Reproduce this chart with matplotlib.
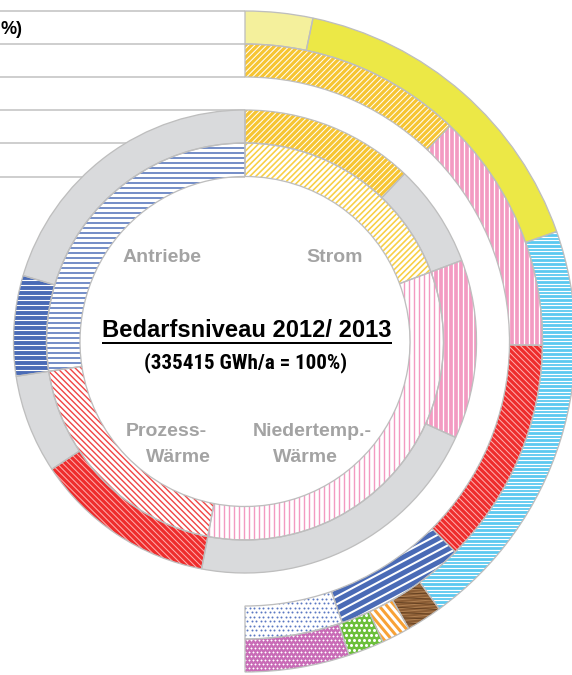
import numpy as np
import matplotlib
matplotlib.use("Agg")
import matplotlib.pyplot as plt
from matplotlib.patches import Wedge
from matplotlib.collections import LineCollection
from matplotlib import font_manager
from matplotlib.font_manager import FontProperties

# ---------------- data (percent of 335415 GWh/a; 100 % = full circle) -------------
categories = ["Strom", "Niedertemp.-\nWärme", "Prozess-\nWärme", "Antriebe"]
demand_2013 = [19.3, 33.7, 19.6, 27.4]          # inner ring
covered_share = [12.1, 12.5, 12.7, 7.0]          # coloured part of second ring
sector_future = [12.1, 13.1, 12.3, 7.2, 5.3]     # outer ring A (half circle)
sector_future_names = ["Strom", "Niedertemp", "Prozess", "Antriebe", "Rest"]
sources = [3.3, 16.3, 20.4, 1.75, 1.4, 1.75, 5.1]  # outer ring B (half circle)
source_names = ["PV", "Wind", "Wasser/Geo", "Holz", "Solarthermie", "Biogas", "Sonstige"]
title_text = "Bedarfsniveau 2012/ 2013"
subtitle_text = "(335415 GWh/a = 100%)"

# ---------------- figure ----------------
W, H = 572, 675
fig = plt.figure(figsize=(W / 100, H / 100), dpi=100)
ax = fig.add_axes([0, 0, 1, 1])
ax.set_xlim(0, W)
ax.set_ylim(0, H)
ax.set_aspect("equal")
ax.axis("off")

CX, CY = 245, H - 341.5
R1 = (165, 198.5)
R2 = (198.5, 231.5)
RA = (264.5, 297.5)
RB = (297.5, 330.5)
EDGE = "#BEBEBE"
GRAY = "#D9DADC"
PX = 0.72  # points per pixel

names = {f.name for f in font_manager.fontManager.ttflist}
SANS = "Liberation Sans" if "Liberation Sans" in names else "DejaVu Sans"


def find_condensed_bold():
    cands = []
    for f in font_manager.fontManager.ttflist:
        w = f.weight
        bold = (w in ("bold", "heavy", "black")) or (isinstance(w, int) and w >= 700)
        if not bold:
            continue
        if f.name == "Liberation Sans Narrow":
            cands.append((0, f.fname))
        elif f.name == "Roboto Condensed":
            cands.append((1, f.fname))
        elif f.name in ("DejaVu Sans", "Roboto", "Open Sans", "Noto Sans") and \
                "condensed" in str(f.stretch):
            cands.append((2, f.fname))
    if cands:
        cands.sort()
        return FontProperties(fname=cands[0][1])
    return FontProperties(family=SANS, weight="bold")


NARROW_FP = find_condensed_bold()

# table lines on the left
for r in [RB[1], RB[0], RA[0], R2[1], R2[0], R1[0]]:
    ax.plot([0, CX], [CY + r, CY + r], color="#C4C4C4", lw=1.6 * PX, zorder=0,
            solid_capstyle="butt")


def stripes(patch, angle, spacing, lw, color):
    ext = patch.get_path().get_extents()
    c = np.array([(ext.x0 + ext.x1) / 2, (ext.y0 + ext.y1) / 2])
    L = np.hypot(ext.width, ext.height) / 2 + 5
    a = np.deg2rad(angle)
    d = np.array([np.cos(a), np.sin(a)])
    n = np.array([-np.sin(a), np.cos(a)])
    segs = []
    for t in np.arange(-L, L, spacing):
        p = c + t * n
        segs.append([p - L * d, p + L * d])
    lc = LineCollection(segs, colors=color, linewidths=lw * PX, zorder=3)
    ax.add_collection(lc)
    lc.set_clip_path(patch)


def dots(patch, spacing, size, color, marker="o"):
    ext = patch.get_path().get_extents()
    xs, ys = [], []
    row = 0
    for y in np.arange(ext.y0 - spacing, ext.y1 + spacing, spacing):
        off = (spacing / 2) * (row % 2)
        for x in np.arange(ext.x0 - spacing + off, ext.x1 + spacing, spacing):
            xs.append(x)
            ys.append(y)
        row += 1
    sc = ax.scatter(xs, ys, s=(size * PX) ** 2, c=color, marker=marker,
                    linewidths=0 if marker == "o" else 0.9 * PX,
                    edgecolors=color, zorder=3)
    sc.set_clip_path(patch)


STYLES = {
    "strom_in": ("white", [("s", 45, 4.2, 1.6, "#F8CF45")]),
    "strom": ("#F6C533", [("s", 45, 4.2, 1.0, "white")]),
    "nt_in": ("white", [("s", 90, 5.0, 1.4, "#F39AC2")]),
    "nt": ("#F39AC2", [("s", 90, 5.0, 1.3, "white")]),
    "pw_in": ("white", [("s", -45, 4.2, 1.4, "#F04646")]),
    "pw": ("#EE2D2D", [("s", -45, 4.2, 1.0, "#FFB0B0")]),
    "an_in": ("white", [("s", 0, 5.0, 1.5, "#4A6CB6")]),
    "an": ("#4A6BB6", [("s", 0, 5.0, 1.1, "white")]),
    "an_out": ("#4A6BB6", [("s", 28, 7.0, 2.0, "white")]),
    "rest": ("white", [("d", 4.5, 2.0, "#5B78C2", "o")]),
    "gray": (GRAY, []),
    "pv": ("#F4F09C", []),
    "wind": ("#ECE846", []),
    "water": ("#5CC9F0", [("s", 0, 3.6, 1.2, "white")]),
    "wood": ("#8A5C34", [("s", 5, 3.0, 1.0, "#B08052"), ("s", -3, 5.0, 0.8, "#5E3C1E")]),
    "solar": ("white", [("s", -50, 6.0, 3.0, "#F8A236")]),
    "biogas": ("#6CBF3B", [("d", 5.0, 3.0, "white", "o")]),
    "misc": ("#C96CB7", [("d", 4.0, 2.4, "white", "+")]),
}


def segment(r, th_a, th_b, style, zorder=2):
    """Ring segment from th_a to th_b (degrees clockwise from 12 o'clock)."""
    t1, t2 = 90 - th_b, 90 - th_a
    bg, textures = STYLES[style]
    w = Wedge((CX, CY), r[1], t1, t2, width=r[1] - r[0], facecolor=bg,
              edgecolor="none", lw=0, zorder=zorder)
    ax.add_patch(w)
    for tx in textures:
        if tx[0] == "s":
            stripes(w, *tx[1:])
        else:
            dots(w, *tx[1:])
    ax.add_patch(Wedge((CX, CY), r[1], t1, t2, width=r[1] - r[0], fill=False,
                       edgecolor=EDGE, lw=1.3 * PX, zorder=4))


DEG = 3.6
in_styles = ["strom_in", "nt_in", "pw_in", "an_in"]
cov_styles = ["strom", "nt", "pw", "an"]

# inner ring and second ring
start = 0.0
for v, cov, s_in, s_cov in zip(demand_2013, covered_share, in_styles, cov_styles):
    end = start + v * DEG
    segment(R1, start, end, s_in)
    mid = start + cov * DEG
    segment(R2, start, mid, s_cov)
    segment(R2, mid, end, "gray")
    start = end

# outer ring A
outA_styles = ["strom", "nt", "pw", "an_out", "rest"]
start = 0.0
for v, s in zip(sector_future, outA_styles):
    end = start + v * DEG
    segment(RA, start, end, s)
    start = end

# outer ring B
outB_styles = ["pv", "wind", "water", "wood", "solar", "biogas", "misc"]
start = 0.0
for v, s in zip(sources, outB_styles):
    end = start + v * DEG
    segment(RB, start, end, s)
    start = end

# ---------------- texts ----------------
def Y(y):
    return H - y

lab = dict(color="#A3A3A3", fontsize=14, fontweight="bold", family=SANS,
           ha="center", va="center", zorder=6)
ax.text(162, Y(257), "Antriebe", **lab)
ax.text(335, Y(257), "Strom", **lab)
ax.text(166, Y(431), "Prozess-", **lab)
ax.text(178, Y(458), "Wärme", **lab)
ax.text(312, Y(431), "Niedertemp.-", **lab)
ax.text(305.5, Y(458), "Wärme", **lab)

t = ax.text(247, Y(330.5), title_text, color="black", fontsize=17,
            fontweight="bold", family=SANS, ha="center", va="center", zorder=6)
st = ax.text(246, Y(363), subtitle_text, color="black", fontsize=15.5,
             fontproperties=NARROW_FP, ha="center", va="center", zorder=6)
st.set_fontsize(15.5)

renderer = fig.canvas.get_renderer()


def fit_width(txt, target):
    for _ in range(2):
        bb = txt.get_window_extent(renderer=renderer)
        txt.set_fontsize(txt.get_fontsize() * target / bb.width)


fit_width(t, 290)
fit_width(st, 202)

bb = t.get_window_extent(renderer=renderer)
ax.plot([bb.x0, bb.x1], [Y(342.5), Y(342.5)], color="black", lw=2.0 * PX,
        solid_capstyle="butt", zorder=6)

ax.text(0.5, Y(29), "%)", color="black", fontsize=13, fontweight="bold",
        family=SANS, ha="left", va="center", zorder=6)

fig.savefig("out.png", dpi=100)
